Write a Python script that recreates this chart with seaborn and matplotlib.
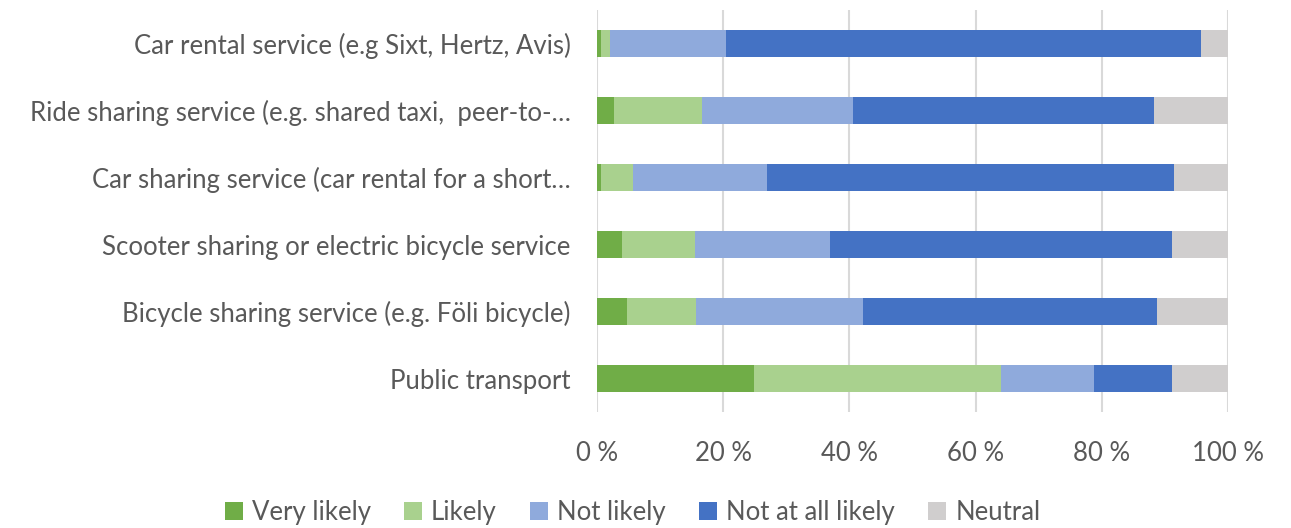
import numpy as np
import pandas as pd
import matplotlib
matplotlib.use("Agg")
import matplotlib.pyplot as plt
import seaborn as sns
from matplotlib.patches import Patch

categories = [
    "Car rental service (e.g Sixt, Hertz, Avis)",
    "Ride sharing service (e.g. shared taxi,  peer-to-\u2026",
    "Car sharing service (car rental for a short\u2026",
    "Scooter sharing or electric bicycle service",
    "Bicycle sharing service (e.g. F\u00f6li bicycle)",
    "Public transport",
]
series_names = ["Very likely", "Likely", "Not likely", "Not at all likely", "Neutral"]
very_likely = [0.6, 2.7, 0.7, 3.9, 4.7, 24.9]
likely = [1.4, 14.0, 5.0, 11.7, 11.0, 39.2]
not_likely = [18.4, 23.9, 21.3, 21.4, 26.4, 14.6]
not_at_all = [75.4, 47.6, 64.5, 54.2, 46.6, 12.4]
neutral = [4.2, 11.8, 8.5, 8.8, 11.3, 8.9]
tick_labels = ["0 %", "20 %", "40 %", "60 %", "80 %", "100 %"]

colors = ["#70AD47", "#A9D18E", "#8FAADC", "#4472C4", "#D0CECE"]

sns.set_theme(style="white")
plt.rcParams["font.family"] = ["Lato", "DejaVu Sans"]

vals = np.array([very_likely, likely, not_likely, not_at_all, neutral])
cum = np.cumsum(vals, axis=0)

fig = plt.figure(figsize=(12.91, 5.28), dpi=100)
ax = fig.add_axes([597 / 1291, 1 - 412 / 528, 631 / 1291, 402 / 528])

for i in range(len(series_names) - 1, -1, -1):
    df = pd.DataFrame({"category": categories, "value": cum[i]})
    sns.barplot(data=df, x="value", y="category", order=categories,
                color=colors[i], width=0.4, orient="h", ax=ax,
                saturation=1, linewidth=0, zorder=3)

ax.set_xlim(0, 100)
ax.set_ylim(5.5, -0.5)
ax.set_xticks([0, 20, 40, 60, 80, 100])
ax.set_xticklabels(tick_labels)
ax.set_xlabel("")
ax.set_ylabel("")
ax.grid(axis="x", color="#D9D9D9", linewidth=1.5, zorder=0)
ax.grid(axis="y", visible=False)
for s in ax.spines.values():
    s.set_visible(False)
ax.tick_params(axis="both", length=0, colors="#595959", labelsize=18.5)
ax.tick_params(axis="y", pad=19)
ax.tick_params(axis="x", pad=21)

handles = [Patch(facecolor=c, edgecolor="none") for c in colors]
fig.legend(handles, series_names, loc="center", bbox_to_anchor=(0.49, 0.03),
           ncol=5, frameon=False, fontsize=18.5, handlelength=0.7, handleheight=0.7,
           columnspacing=1.3, handletextpad=0.35, labelcolor="#595959")

fig.savefig("out.png", dpi=100)
